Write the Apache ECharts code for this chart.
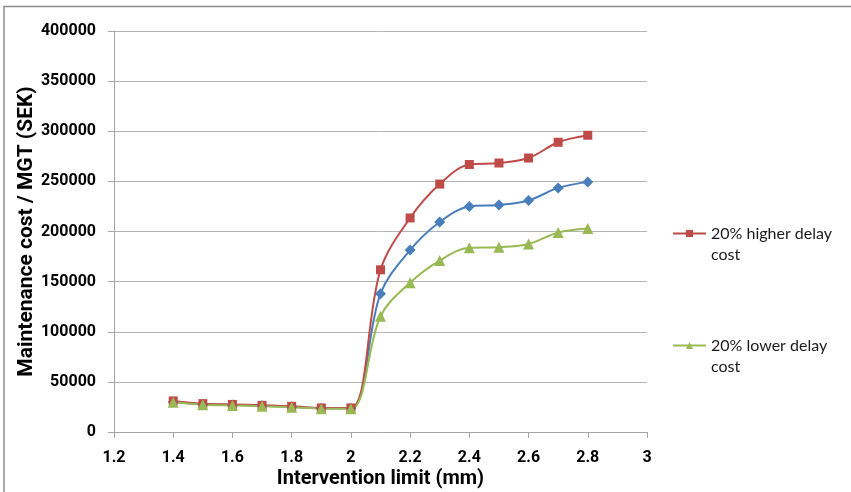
<!DOCTYPE html>
<html>
<head>
<meta charset="utf-8">
<script src="https://cdn.jsdelivr.net/npm/echarts@6/dist/echarts.min.js"></script>
<style>
  html, body { margin: 0; padding: 0; background: #fff; }
  #chart { width: 851px; height: 492px; }
</style>
</head>
<body>
<div id="chart"></div>
<script>
// Intervention limits (mm)
const limits = [1.4, 1.5, 1.6, 1.7, 1.8, 1.9, 2.0, 2.1, 2.2, 2.3, 2.4, 2.5, 2.6, 2.7, 2.8];

// Maintenance cost per MGT (SEK)
const baseCost   = [30000, 27700, 27000, 26200, 25200, 23700, 23700, 138000, 181500, 209500, 225000, 226500, 231000, 243500, 249500];
const higherCost = [31000, 28300, 27500, 26600, 25600, 24000, 24000, 161800, 213500, 247300, 266800, 268300, 273300, 289000, 296000];
const lowerCost  = [29600, 27200, 26500, 25700, 24800, 23300, 23300, 115500, 149000, 171000, 183800, 184300, 187500, 199000, 203000];

const higherName = '20% higher delay cost';
const lowerName  = '20% lower delay cost';

const yTicks = { min: 0, max: 400000, step: 50000 };
const xTicks = { min: 1.2, max: 3, step: 0.2 };

const pairs = vals => limits.map((x, i) => [x, vals[i]]);

const boldFont = 'Roboto, "Open Sans", sans-serif';
const textFont = 'Lato, "Open Sans", sans-serif';

const chart = echarts.init(document.getElementById('chart'), null, { renderer: 'canvas' });

// Legend labels wrap onto a second line; a leading empty line keeps the
// first line level with the legend symbol.
const legendText = {
  fontFamily: textFont,
  fontSize: 16,
  color: '#1a1a1a',
  lineHeight: 21
};

chart.setOption({
  animation: false,
  backgroundColor: '#fff',
  graphic: [{
    type: 'polyline',
    shape: { points: [[4, 492], [4, 6.5], [851, 6.5]] },
    style: { stroke: '#8c8c8c', lineWidth: 1.5, fill: null },
    silent: true
  }],
  grid: { left: 114, right: 204, top: 31, bottom: 60, containLabel: false, outerBoundsMode: 'none' },
  legend: [
    {
      data: [higherName],
      left: 672, top: 202, padding: 0,
      itemWidth: 33, itemHeight: 9, itemGap: 5,
      formatter: () => '\n20% higher delay\ncost',
      textStyle: legendText
    },
    {
      data: [lowerName],
      left: 672, top: 314, padding: 0,
      itemWidth: 33, itemHeight: 9, itemGap: 5,
      formatter: () => '\n20% lower delay\ncost',
      textStyle: legendText
    }
  ],
  xAxis: {
    type: 'value',
    min: xTicks.min, max: xTicks.max, interval: xTicks.step,
    name: 'Intervention limit (mm)',
    nameLocation: 'middle',
    nameGap: 37,
    nameMoveOverlap: false,
    nameTextStyle: { fontFamily: boldFont, fontSize: 20, fontWeight: 'bold', color: '#000' },
    axisLine: { lineStyle: { color: '#a6a6a6', width: 1 } },
    axisTick: { show: true, length: 6, lineStyle: { color: '#a6a6a6' } },
    axisLabel: { margin: 18, fontFamily: boldFont, fontSize: 16, fontWeight: 'bold', color: '#000' },
    splitLine: { show: false }
  },
  yAxis: {
    type: 'value',
    min: yTicks.min, max: yTicks.max, interval: yTicks.step,
    name: 'Maintenance cost / MGT (SEK)',
    nameLocation: 'middle',
    nameGap: 77,
    nameMoveOverlap: false,
    nameTextStyle: { fontFamily: boldFont, fontSize: 21, fontWeight: 'bold', color: '#000' },
    axisLine: { show: true, lineStyle: { color: '#a6a6a6', width: 1 } },
    axisTick: { show: true, length: 6, lineStyle: { color: '#a6a6a6' } },
    axisLabel: {
      margin: 18, fontFamily: boldFont, fontSize: 16, fontWeight: 'bold', color: '#000',
      formatter: v => String(v)
    },
    splitLine: { show: true, lineStyle: { color: '#b3b3b3', width: 1 } }
  },
  series: [
    {
      name: 'base',
      type: 'line',
      data: pairs(baseCost),
      smooth: 0.35,
      symbol: 'diamond', symbolSize: 11,
      lineStyle: { color: '#4a7ebb', width: 2 },
      itemStyle: { color: '#4a7ebb' }
    },
    {
      name: higherName,
      type: 'line',
      data: pairs(higherCost),
      smooth: 0.35,
      symbol: 'rect', symbolSize: 9,
      lineStyle: { color: '#be4b48', width: 2 },
      itemStyle: { color: '#be4b48' }
    },
    {
      name: lowerName,
      type: 'line',
      data: pairs(lowerCost),
      smooth: 0.35,
      symbol: 'triangle', symbolSize: 11,
      lineStyle: { color: '#98b954', width: 2 },
      itemStyle: { color: '#98b954' }
    }
  ]
});
</script>
</body>
</html>
